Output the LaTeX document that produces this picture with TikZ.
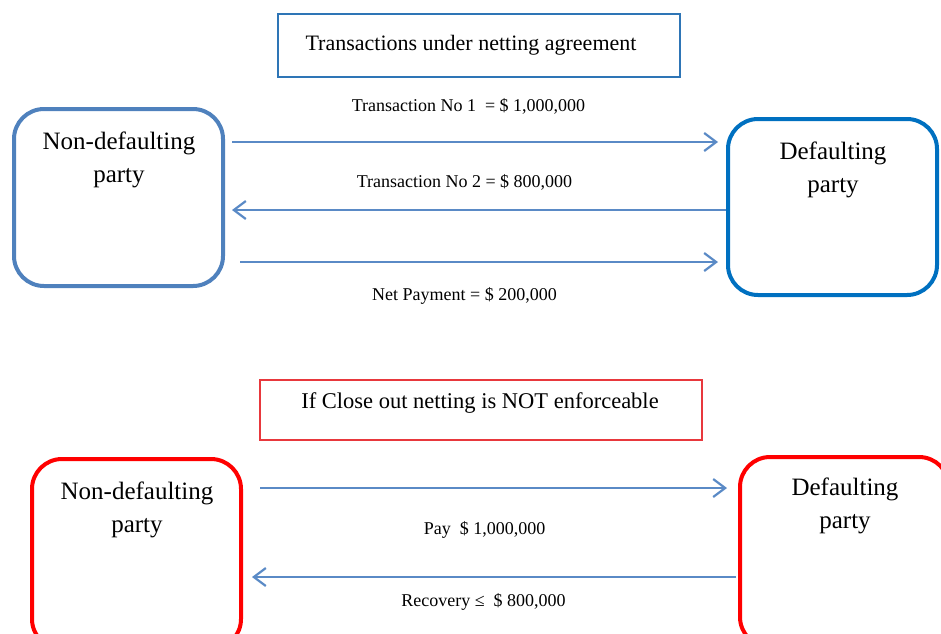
\documentclass[tikz,border=0pt]{standalone}
\usepackage{fontspec}
\setmainfont{Liberation Serif}
\usetikzlibrary{arrows.meta}

\definecolor{steel}{HTML}{4F81BD}
\definecolor{deepblue}{HTML}{0070C0}
\definecolor{headblue}{HTML}{2E75B6}
\definecolor{linkblue}{HTML}{5A8AC6}
\definecolor{alarm}{HTML}{FF0000}
\definecolor{softred}{HTML}{E8383D}

\tikzset{
  party/.style={rectangle, rounded corners=30pt, line width=4pt, outer sep=0pt,
    inner sep=0pt, minimum width=209pt},
  partytext/.style={align=center, font=\fontsize{25}{33}\selectfont},
  headbox/.style={rectangle, line width=1.3pt, outer sep=0pt, inner sep=0pt},
  headtext/.style={font=\fontsize{22}{26}\selectfont},
  amount/.style={font=\fontsize{18}{22}\selectfont},
  flow/.style={draw=linkblue, line width=2.2pt,
    -{Straight Barb[length=12pt,width=18pt,line width=2.2pt]}},
}

\begin{document}
\begin{tikzpicture}[x=1pt, y=-1pt]
   \useasboundingbox (0,0) rectangle (941,633);
   \clip (0,0) rectangle (941,633);

   % netting agreement
   \node (head1) [headbox, draw=headblue, minimum width=402pt, minimum height=63pt] at (479,45.5) {};
   \node (head1t) [headtext] at (471,45) {Transactions under netting agreement};

   \node (nd1) [party, draw=steel, minimum height=177pt] at (118.5,197.5) {};
   \node (nd1t) [partytext] at (119,160) {Non-defaulting\\party};
   \node (d1)  [party, draw=deepblue, minimum height=176pt] at (832.5,207) {};
   \node (d1t) [partytext] at (833,170) {Defaulting\\party};

   \coordinate (r1) at (0,142);
   \coordinate (r2) at (0,210);
   \coordinate (r3) at (0,262);

   \path
     (nd1.east |- r1) edge [flow, shorten <=9pt, shorten >=10pt]
        node (t1) [amount, yshift=36pt, xshift=-7pt] {Transaction No 1\ \ = \$ 1,000,000} (d1.west |- r1)
     (d1.west |- r2)  edge [flow, shorten <=2pt, shorten >=9pt]
        node (t2) [amount, yshift=28pt, xshift=-11pt] {Transaction No 2 = \$ 800,000} (nd1.east |- r2)
     (nd1.east |- r3) edge [flow, shorten <=17pt, shorten >=10pt]
        node (net) [amount, yshift=-34pt, xshift=-11pt] {Net Payment = \$ 200,000} (d1.west |- r3);

   % no close-out netting
   \node (head2) [headbox, draw=softred, minimum width=442pt, minimum height=60pt] at (481,410) {};
   \node (head2t) [headtext, font=\fontsize{22.5}{26}\selectfont] at (480,403) {If Close out netting is NOT enforceable};

   \node (nd2) [party, draw=alarm, minimum height=190pt] at (136.5,554) {};
   \node (nd2t) [partytext] at (137,510) {Non-defaulting\\party};
   \node (d2)  [party, draw=alarm, minimum height=190pt] at (844.5,552) {};
   \node (d2t) [partytext] at (845,506) {Defaulting\\party};

   \coordinate (r4) at (0,488);
   \coordinate (r5) at (0,577);

   \path
     (nd2.east |- r4) edge [flow, shorten <=19pt, shorten >=13pt]
        node (pay) [amount, yshift=-42pt, xshift=-6pt] {Pay\ \ \$ 1,000,000} (d2.west |- r4)
     (d2.west |- r5)  edge [flow, shorten <=4pt, shorten >=11pt]
        node (rec) [amount, yshift=-25pt, xshift=-7pt] {Recovery ≤\ \ \$ 800,000} (nd2.east |- r5);
\end{tikzpicture}
\end{document}
